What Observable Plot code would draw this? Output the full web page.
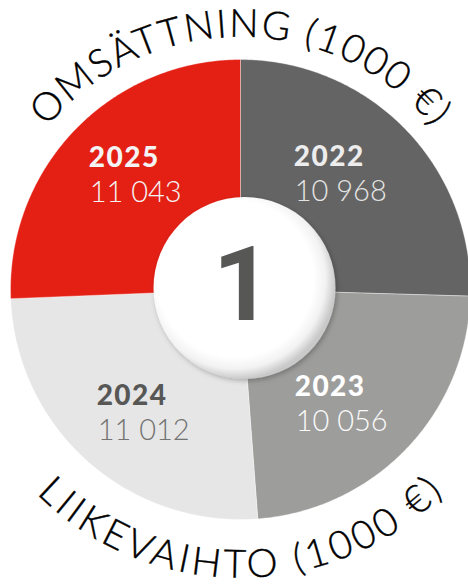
<!DOCTYPE html>
<html><head><meta charset="utf-8">
<script src="https://cdn.jsdelivr.net/npm/d3@7"></script>
<script src="https://cdn.jsdelivr.net/npm/@observablehq/plot@0.6"></script>
<style>html,body{margin:0;padding:0;background:#fff;} svg{display:block}</style>
</head><body><div id="chart"></div>
<script>
// ---- data ----
const years = ["2022", "2023", "2024", "2025"];
const values = [10968, 10056, 11012, 11043];
const valueLabels = ["10 968", "10 056", "11 012", "11 043"];
const titleTop = "OMSÄTTNING (1000 €)";
const titleBottom = "LIIKEVAIHTO (1000 €)";
const centerLabel = "1";

// ---- styles ----
const sliceColors = ["#646464", "#9d9d9c", "#e6e6e6", "#e42015"];
const yearColors = {"2022": "#ededed", "2023": "#ffffff", "2024": "#575756", "2025": "#f4f4f4"};
const valueColors = {"2022": "#e4e4e4", "2023": "#fafafa", "2024": "#737372", "2025": "#f4f4f4"};

const rows = years.map((y, i) => ({year: y, value: values[i], label: valueLabels[i]}));
const arcs = d3.pie().sort(null).value(d => d.value)(rows);

// wedge outlines (angle clockwise from 12 o'clock, unit radius)
const wedgePts = [];
arcs.forEach(a => {
  const n = Math.ceil((a.endAngle - a.startAngle) / (Math.PI / 360));
  wedgePts.push({year: a.data.year, x: 0, y: 0});
  for (let k = 0; k <= n; k++) {
    const t = a.startAngle + (a.endAngle - a.startAngle) * k / n;
    wedgePts.push({year: a.data.year, x: Math.sin(t), y: Math.cos(t)});
  }
  wedgePts.push({year: a.data.year, x: 0, y: 0});
});
const labelRows = arcs.map(a => {
  const m = (a.startAngle + a.endAngle) / 2;
  return {year: a.data.year, label: a.data.label, x: 0.62 * Math.sin(m), y: 0.72 * Math.cos(m)};
});

const textMarks = [];
years.forEach(y => {
  const d = labelRows.filter(r => r.year === y);
  textMarks.push(Plot.text(d, {x: "x", y: "y", text: "year", fill: yearColors[y], fontSize: 28, fontWeight: 900,
    fontFamily: "Lato", textAnchor: "start", lineAnchor: "bottom", dx: -49, dy: -8}));
  textMarks.push(Plot.text(d, {x: "x", y: "y", text: "label", fill: valueColors[y], fontSize: 29, fontWeight: 300,
    fontFamily: "Lato", textAnchor: "start", lineAnchor: "bottom", dx: -48, dy: 27}));
});

const plot = Plot.plot({
  width: 468, height: 587,
  margin: 0,
  x: {domain: [-1, 1], range: [10, 470], axis: null},
  y: {domain: [-1, 1], range: [519, 59], axis: null},
  color: {domain: years, range: sliceColors},
  style: {background: "#fff", overflow: "hidden"},
  marks: [
    Plot.line(wedgePts, {x: "x", y: "y", z: "year", fill: "year", stroke: "#ffffff", strokeOpacity: 0.6, strokeWidth: 0.6, curve: "linear"}),
    Plot.dot([{x: 0, y: 0}], {x: "x", y: "y", r: 91, fill: "url(#ballGrad)", stroke: "none", dx: 4, dy: -1.5}),
    Plot.text([centerLabel], {x: () => 0, y: () => 0, text: d => d, fontSize: 104, fontWeight: 700, fontFamily: "Roboto",
      fill: "#575756", textAnchor: "middle", dx: 2, dy: -3}),
    ...textMarks
  ]
});
document.getElementById("chart").appendChild(plot);

// gradient for the centre ball + curved titles
const svg = d3.select(plot);
svg.selectAll('g[font-weight="900"] text').attr("letter-spacing", 1.5);
const defs = svg.insert("defs", ":first-child");
const g = defs.append("radialGradient").attr("id", "ballGrad").attr("cx", "45%").attr("cy", "45%").attr("r", "55%");
g.append("stop").attr("offset", "0%").attr("stop-color", "#ffffff");
g.append("stop").attr("offset", "78%").attr("stop-color", "#ffffff");
g.append("stop").attr("offset", "90%").attr("stop-color", "#f2f2f2");
g.append("stop").attr("offset", "100%").attr("stop-color", "#c9c9c9");
const f = defs.append("filter").attr("id", "ballShadow").attr("x", "-20%").attr("y", "-20%").attr("width", "140%").attr("height", "140%");
f.append("feDropShadow").attr("dx", 1.5).attr("dy", 2).attr("stdDeviation", 2.5).attr("flood-color", "#000").attr("flood-opacity", 0.25);
svg.selectAll("circle").attr("filter", "url(#ballShadow)");

const sx = plot.scale("x"), sy = plot.scale("y");
const cx = sx.apply(0), cy = sy.apply(0);
const unit = sx.apply(1) - cx;
const pt = (r, deg) => { const t = deg * Math.PI / 180; return [cx + r * Math.sin(t), cy - r * Math.cos(t)]; };
const rTop = 1.096 * unit, rBot = 1.255 * unit;
const [tx0, ty0] = pt(rTop, -100), [tx1, ty1] = pt(rTop, 100);
defs.append("path").attr("id", "arcTop").attr("d", `M${tx0},${ty0} A${rTop},${rTop} 0 1 1 ${tx1},${ty1}`);
const [bx0, by0] = pt(rBot, 260), [bx1, by1] = pt(rBot, 100);
defs.append("path").attr("id", "arcBot").attr("d", `M${bx0},${by0} A${rBot},${rBot} 0 0 0 ${bx1},${by1}`);

function curved(id, txt, len) {
  svg.append("text").attr("font-family", "Lato").attr("font-weight", 300).attr("font-size", 39).attr("fill", "#000")
    .attr("stroke", "#000").attr("stroke-width", 0.4)
    .append("textPath").attr("href", "#" + id).attr("startOffset", "50%").attr("text-anchor", "middle")
    .attr("textLength", len).attr("lengthAdjust", "spacing").text(txt);
}
curved("arcTop", titleTop, 440);
curved("arcBot", titleBottom, 452);
</script>
</body></html>
